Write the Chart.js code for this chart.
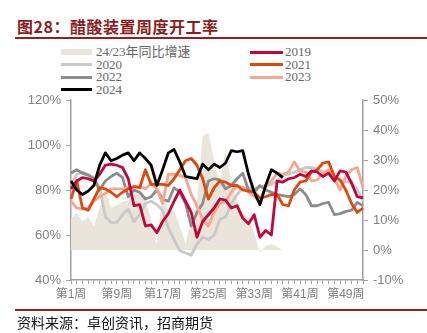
<!DOCTYPE html>
<html>
<head>
<meta charset="utf-8">
<script src="https://cdn.jsdelivr.net/npm/chart.js@4"></script>
<style>
  html, body { margin: 0; padding: 0; background: #fff; }
  #wrap { position: relative; width: 427px; height: 333px; overflow: hidden; }
  #chart { position: absolute; left: 0; top: 0; }
  .title {
    position: absolute; left: 17px; top: 16px;
    font: bold 16px "Noto Sans CJK SC", sans-serif; letter-spacing: 0.5px;
    color: #8e1c1c; line-height: 20px; white-space: nowrap;
  }
  .rule { position: absolute; left: 15px; right: 0; height: 2px; background: #9e1b1b; }
  .source {
    position: absolute; left: 17px; top: 313px;
    font: 14px "Noto Sans CJK SC", sans-serif;
    color: #111; line-height: 18px; white-space: nowrap;
  }
  .leg { position: absolute; font: 13px "Liberation Serif", "Noto Sans CJK SC", serif; color: #666; line-height: 13px; white-space: nowrap; }
  .sw { position: absolute; }
</style>
</head>
<body>
<div id="wrap">
  <div class="title">图28：醋酸装置周度开工率</div>
  <div class="rule" style="top:37px"></div>
  <div id="legend"></div>
  <canvas id="chart" width="427" height="333"></canvas>
  <div class="rule" style="top:309px"></div>
  <div class="source">资料来源：卓创资讯，招商期货</div>
</div>
<script>
const weeks = Array.from({ length: 52 }, (_, i) => '第' + (i + 1) + '周');

// weekly operating rate, %
const y2019 = [80.5, 84, 85.5, 85, 84, 87, 91, 91.5, 91, 90, 85, 73, 73.5, 64, 64.5, 61, 66, 69.5, 75, 80,
  75, 70, 59, 66, 69, 72, 76, 75.5, 72, 73, 67.5, 65, 69, 59, 62, 60, 84, 83.5, 85, 85.5,
  87, 86, 88.5, 88, 86, 87.5, 84, 88.5, 88, 83, 77, 76.5];
const y2020 = [82, 87, 88, 87, 85.5, 81, 68, 65.5, 65.5, 69, 71.5, 66, 69, 74, 75, 73.5, 71, 63, 58, 53,
  52, 51, 56, 59, 58, 60, 67, 68, 74, 78, 81, 81, 80.5, 81.5, 82, 82.5, 84, 86.5, 87, 88,
  89, 90, 90, 89.5, 88, 87, 85, 84, 83.5, 83.5, 80, 75];
const y2021 = [76, 84, 72, 71, 76, 81, 80.5, 79, 77, 79, 80.5, 81.5, 81, 89, 82.5, 82.5, 82.5, 82, 85, 89,
  93, 94, 91, 85, 76, 81, 84, 83.5, 82, 82, 80, 79.5, 79, 76.5, 77, 78, 78, 73.5, 73, 80,
  83.5, 84, 88, 89, 92, 92.5, 86, 84.5, 80, 74, 70, 72];
const y2022 = [87.5, 89, 87.5, 86.5, 85, 80, 84, 86, 87.5, 85.5, 77, 80, 79, 76, 77, 80, 76, 75, 81, 79,
  74, 64, 70, 74, 84, 85, 84.5, 80.5, 82, 85, 87.5, 80, 79, 82, 80, 79, 78, 77.5, 77, 78,
  80.5, 78, 73, 73, 74, 74.5, 69, 69.5, 70.5, 71, 74.5, 73];
const y2023 = [75, 72, 71.5, 72, 75, 77, 78.5, 80.5, 80.5, 80.5, 81, 81.5, 81.5, 80.5, 83, 80.5, 74, 87, 87, 86.5,
  85.5, 78, 73, 67, 64, 70, 74, 75, 79, 82, 81, 79, 77, 75, 81.5, 84, 87.5, 87, 88, 92.5,
  88.5, 88, 84, 84.5, 87.5, 89, 85, 80, 86, 89, 90, 81];
const y2024 = [84, 80, 78, 79.5, 82, 91, 96.5, 93, 94, 95.5, 96.5, 93, 96.5, 94, 91, 82, 89, 96.5, 98, 92.5,
  86, 85.5, 85, 91.5, 89, 91.5, 90, 92, 97.5, 97, 97.5, 87, 79, 73.5, 82, 89, 87.5, 85.5,
  null, null, null, null, null, null, null, null, null, null, null, null, null, null];
// 24/23 year-on-year change, % (right axis)
const yoy = [10.5, 12.5, 9.5, 11, 8, 14, 20, 14, 15, 16, 16.5, 19, 20, 17, 10, 2, 20, 13, 13, 8,
  2, 10, 16, 38, 39, 30, 22, 34, 22, 17, 12, 11, 5.5, -1, 1.5, 2, 1, 0,
  null, null, null, null, null, null, null, null, null, null, null, null, null, null];

const leftTicks = [40, 60, 80, 100, 120];
const rightTicks = [-10, 0, 10, 20, 30, 40, 50];

const areaColor = '#e9e5da';
const lines = [
  { label: '2019', data: y2019, color: '#c4053c' },
  { label: '2020', data: y2020, color: '#c9c9c9' },
  { label: '2021', data: y2021, color: '#e2470b' },
  { label: '2022', data: y2022, color: '#8c8c8c' },
  { label: '2023', data: y2023, color: '#f9a68e' },
  { label: '2024', data: y2024, color: '#000000' }
];

// draw order: black on top, area at the bottom
const drawOrder = { '2024': 0, '2019': 1, '2021': 2, '2023': 3, '2022': 4, '2020': 5 };

const datasets = [{
  label: '24/23年同比增速',
  data: yoy,
  yAxisID: 'y1',
  fill: 'origin',
  backgroundColor: areaColor,
  borderWidth: 0,
  pointRadius: 0,
  order: 10
}].concat(lines.map(s => ({
  label: s.label,
  data: s.data,
  yAxisID: 'y',
  borderColor: s.color,
  backgroundColor: s.color,
  borderWidth: 2.8,
  pointRadius: 0,
  fill: false,
  tension: 0,
  borderJoinStyle: 'round',
  order: drawOrder[s.label]
})));

// legend: two columns, row-major, same order as the series list
const legendEl = document.getElementById('legend');
const legItems = [{ label: '24/23年同比增速', color: areaColor, box: true }].concat(lines);
legItems.forEach((it, i) => {
  const col = i % 2, row = Math.floor(i / 2);
  const cy = 52 + row * 12.6;
  const sx = col ? 250 : 61, tx = col ? 285 : 96, sw = col ? 33 : 31;
  const h = it.box ? 6 : 3;
  const b = document.createElement('div');
  b.className = 'sw';
  b.style.cssText = `left:${sx}px;top:${cy - h / 2}px;width:${sw}px;height:${h}px;background:${it.color}`;
  legendEl.appendChild(b);
  const t = document.createElement('div');
  t.className = 'leg';
  t.style.cssText = `left:${tx}px;top:${cy - 7}px`;
  t.textContent = it.label;
  legendEl.appendChild(t);
});

const axisColor = '#a0a0a0';
const tickFont = { family: "'Liberation Sans', 'Noto Sans CJK SC', sans-serif", size: 13 };

new Chart(document.getElementById('chart').getContext('2d'), {
  type: 'line',
  data: { labels: weeks, datasets: datasets },
  options: {
    responsive: false,
    animation: false,
    layout: { padding: { top: 100, left: 0, right: 0, bottom: 0 } },
    plugins: { legend: { display: false }, tooltip: { enabled: false } },
    spanGaps: false,
    scales: {
      x: {
        offset: false,
        grid: { drawOnChartArea: false, tickLength: 4, color: axisColor },
        border: { color: axisColor, width: 1.5 },
        ticks: {
          autoSkip: false, maxRotation: 0, padding: 3,
          color: '#808080', font: { family: tickFont.family, size: 12 },
          callback: (v, i) => (i % 8 === 0 ? weeks[i] : '')
        },
        afterFit: s => { s.height = 53; }
      },
      y: {
        position: 'left',
        min: 40, max: 120,
        afterBuildTicks: s => { s.ticks = leftTicks.map(v => ({ value: v })); },
        grid: { drawOnChartArea: false, tickLength: 5, color: axisColor },
        border: { color: axisColor, width: 1.5 },
        ticks: { color: '#808080', font: tickFont, padding: 5, callback: v => v + '%' },
        afterFit: s => { s.width = 71; }
      },
      y1: {
        position: 'right',
        min: -10, max: 50,
        afterBuildTicks: s => { s.ticks = rightTicks.map(v => ({ value: v })); },
        grid: { drawOnChartArea: false, tickLength: 5, color: axisColor },
        border: { color: axisColor, width: 1.5 },
        ticks: { color: '#808080', font: tickFont, padding: 5, callback: v => v + '%' },
        afterFit: s => { s.width = 64; }
      }
    }
  }
});
</script>
</body>
</html>
